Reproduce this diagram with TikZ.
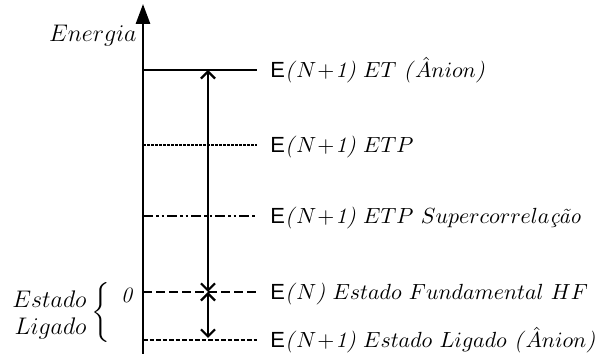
\documentclass[tikz,border=0pt]{standalone}
\usepackage{fontspec}
\newfontfamily\arialf{Liberation Sans}
\usetikzlibrary{arrows.meta}
\newcommand{\EE}{{\arialf E}}
\newcommand{\Np}{\textit{(}$N$\kern0.6pt+\kern0.6pt\textit{1)}}
\begin{document}
\begin{tikzpicture}[x=0.5pt,y=-0.5pt,
  font=\fontsize{12}{14}\selectfont,
  lvl/.style={line width=1.25pt},
  lbl/.style={anchor=base west,inner sep=0pt,font=\fontsize{10.95}{13}\selectfont},
  vx/.style={line width=1.1pt,{Straight Barb[length=3.5pt,width=7pt,line width=1.1pt]}-{Straight Barb[length=3.5pt,width=7pt,line width=1.1pt]}}
]
\useasboundingbox (0,0) rectangle (601,356);
% axis
\coordinate (axb) at (143,354);
\coordinate (axt) at (143,4);
\draw[line width=1.4pt,-{Triangle[length=10pt,width=7pt]}] (axb) -- (axt);
\node[anchor=east,inner sep=0pt] (en) at (137,36) {$Energia$};
% levels
\coordinate (a1) at (143,70);  \coordinate (b1) at (257,70);
\coordinate (a2) at (143,145); \coordinate (b2) at (257,145);
\coordinate (a3) at (143,216); \coordinate (b3) at (257,216);
\coordinate (a4) at (143,292); \coordinate (b4) at (257,292);
\coordinate (a5) at (143,340); \coordinate (b5) at (257,340);
\draw[lvl] (a1) -- (b1);
\draw[lvl,dash pattern=on 1.25pt off 0.75pt] (a2) -- (b2);
\draw[lvl,dash pattern=on 5pt off 1.5pt on 1.25pt off 1.5pt on 1.25pt off 1.5pt] (a3) -- (b3);
\draw[lvl,dash pattern=on 4.5pt off 2pt] (a4) -- (b4);
\draw[lvl,dash pattern=on 2.25pt off 1pt] (a5) -- (b5);
% labels
\node[lbl] (t1) at (270,78) {\EE\Np\ $ET$ \textit{(}$\hat{A}nion$\textit{)}};
\node[lbl] (t2) at (270,153) {\EE\Np\ $ETP$};
\node[lbl] (t3) at (270,224) {\EE\Np\ $ETP$ $Supercorrela$\textit{ção}};
\node[lbl] (t4) at (270,300) {\EE\textit{(}$N$\textit{)} $Estado$ $Fundamental$ $HF$};
\node[lbl] (t5) at (270,348) {\EE\Np\ $Estado$ $Ligado$ \textit{(}$\hat{A}nion$\textit{)}};
% vertical arrows
\coordinate (p1) at (208,70);
\coordinate (p4) at (208,292);
\coordinate (p5) at (208,338);
\draw[vx] (p4) -- (p1);
\draw[vx] (p4) -- (p5);
% left labels
\node[inner sep=0pt,font=\fontsize{11}{13}\selectfont] (zero) at (127,295) {\textit{0}};
\node[anchor=base east,inner sep=0pt] (es) at (87,308) {$Estado$};
\node[anchor=base east,inner sep=0pt] (li) at (87,335) {$Ligado$};
\node[inner sep=0pt,scale=1.25] (br) at (102,314) {$\left\{\vrule height 10pt depth 10pt width 0pt\right.$};
\end{tikzpicture}
\end{document}
